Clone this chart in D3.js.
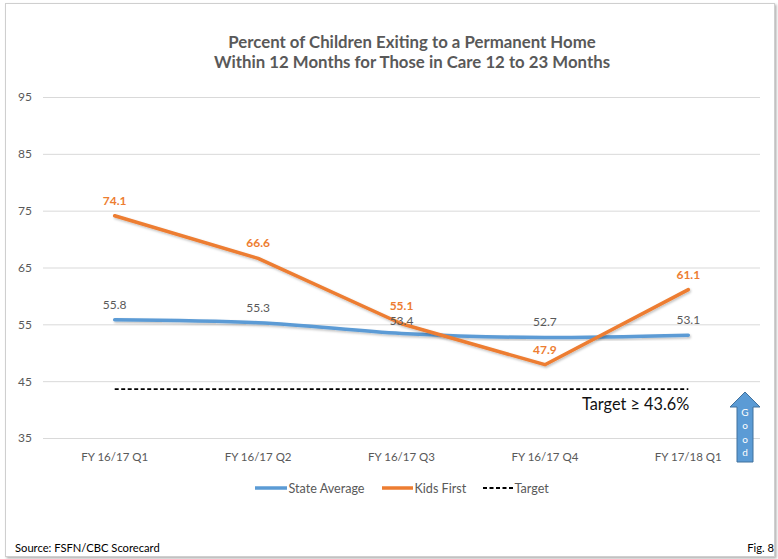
<!DOCTYPE html>
<html><head><meta charset="utf-8">
<script src="https://cdn.jsdelivr.net/npm/d3@7"></script>
<style>body{margin:0;background:#fff} svg{display:block}</style>
</head><body><svg id="c" width="778" height="559"></svg>
<script>
const categories = ["FY 16/17 Q1","FY 16/17 Q2","FY 16/17 Q3","FY 16/17 Q4","FY 17/18 Q1"];
const stateAverage = [55.8,55.3,53.4,52.7,53.1];
const kidsFirst = [74.1,66.6,55.1,47.9,61.1];
const target = [43.6,43.6,43.6,43.6,43.6];
const yTicks = [35,45,55,65,75,85,95];
const titleLines = ["Percent of Children Exiting to a Permanent Home","Within 12 Months for Those in Care 12 to 23 Months"];
const legendLabels = ["State Average","Kids First","Target"];
const targetText = "Target \u2265 43.6%";
const goodLetters = ["G","o","o","d"];

(function(){
const FONT = "Lato, 'Noto Sans', sans-serif";
const BLUE = "#5B9BD5", ORANGE = "#ED7D31", GRAY = "#595959";
const svg = d3.select("#c");

const defs = svg.append("defs");
const fs = defs.append("filter").attr("id","frameShadow").attr("x","-5%").attr("y","-5%").attr("width","110%").attr("height","110%");
fs.append("feDropShadow").attr("dx",1.5).attr("dy",1.5).attr("stdDeviation",1.2).attr("flood-color","#000").attr("flood-opacity",0.3);
const ls = defs.append("filter").attr("id","lineShadow").attr("x","-5%").attr("y","-20%").attr("width","110%").attr("height","140%");
ls.append("feDropShadow").attr("dx",1).attr("dy",1.5).attr("stdDeviation",1).attr("flood-color","#000").attr("flood-opacity",0.25);

// frame
svg.append("rect").attr("x",5.5).attr("y",3.5).attr("width",769).attr("height",553)
  .attr("fill","#fff").attr("stroke","#cfcfcf").attr("stroke-width",1).attr("filter","url(#frameShadow)");

const pL = 43, pR = 760, pT = 97, pB = 438;
const x = d3.scaleBand().domain(categories).range([pL,pR]);
const cx = c => x(c) + x.bandwidth()/2;
const y = d3.scaleLinear().domain([35,95]).range([pB,pT]);

// title
svg.append("g").selectAll("text").data(titleLines).join("text")
  .attr("x",412).attr("y",(d,i)=>48+i*20).attr("text-anchor","middle")
  .attr("font-family",FONT).attr("font-weight","bold").attr("font-size",16.8).attr("fill",GRAY).text(d=>d);

// y axis / gridlines
const ya = svg.append("g").attr("transform",`translate(${pL},0)`)
  .call(d3.axisLeft(y).tickValues(yTicks).tickSize(-(pR-pL)).tickPadding(11).tickFormat(d3.format("d")));
ya.select(".domain").remove();
ya.selectAll(".tick line").attr("stroke","#d9d9d9");
ya.selectAll(".tick text").attr("font-family",FONT).attr("font-size",12).attr("fill",GRAY);

// x axis
const xa = svg.append("g").attr("transform",`translate(0,${pB})`)
  .call(d3.axisBottom(x).tickSize(0).tickPadding(15));
xa.select(".domain").remove();
xa.selectAll(".tick text").attr("font-family",FONT).attr("font-size",11.5).attr("fill",GRAY);

const line = d3.line().x((d,i)=>cx(categories[i])).y(d=>y(d));

// target
svg.append("path").datum(target).attr("d",line).attr("fill","none")
  .attr("stroke","#000").attr("stroke-width",1.8).attr("stroke-dasharray","4,2.5");

// series
svg.append("path").datum(stateAverage).attr("d",line.curve(d3.curveMonotoneX)).attr("fill","none")
  .attr("stroke",BLUE).attr("stroke-width",3.5).attr("stroke-linecap","round").attr("filter","url(#lineShadow)");
line.curve(d3.curveLinear);
svg.append("path").datum(kidsFirst).attr("d",line).attr("fill","none")
  .attr("stroke",ORANGE).attr("stroke-width",3.5).attr("stroke-linecap","round").attr("stroke-linejoin","round").attr("filter","url(#lineShadow)");

// data labels (small nudge where the two labels collide at Q3)
svg.append("g").selectAll("text").data(stateAverage).join("text")
  .attr("x",(d,i)=>cx(categories[i])).attr("y",(d,i)=>y(d)-11+(i===2?2.5:0)).attr("text-anchor","middle")
  .attr("font-family",FONT).attr("font-size",12).attr("fill",GRAY).text(d=>d.toFixed(1));
svg.append("g").selectAll("text").data(kidsFirst).join("text")
  .attr("x",(d,i)=>cx(categories[i])).attr("y",(d,i)=>y(d)-11-(i===2?3:0)).attr("text-anchor","middle")
  .attr("font-family",FONT).attr("font-weight","bold").attr("font-size",12).attr("fill",ORANGE).text(d=>d.toFixed(1));

// target text
svg.append("text").attr("x",582).attr("y",410).attr("font-family",FONT).attr("font-size",16.3)
  .attr("fill","#111").text(targetText);

// good arrow
const ag = svg.append("g");
ag.append("path").attr("d","M745,392 L760,407 L753,407 L753,462 L737,462 L737,407 L730,407 Z")
  .attr("fill",BLUE).attr("stroke","#41719C").attr("stroke-width",1);
ag.selectAll("text").data(goodLetters).join("text")
  .attr("x",745).attr("y",(d,i)=>416+i*13.3).attr("text-anchor","middle")
  .attr("font-family",FONT).attr("font-size",10).attr("fill","#fff").text(d=>d);

// legend
const legendItems = [
  {label:legendLabels[0], color:BLUE, x1:255, x2:287, dash:null, w:3.5},
  {label:legendLabels[1], color:ORANGE, x1:382, x2:413, dash:null, w:3.5},
  {label:legendLabels[2], color:"#000", x1:483, x2:513, dash:"4,2.5", w:1.8}
];
const lg = svg.append("g").selectAll("g").data(legendItems).join("g");
lg.append("line").attr("x1",d=>d.x1).attr("x2",d=>d.x2).attr("y1",488).attr("y2",488)
  .attr("stroke",d=>d.color).attr("stroke-width",d=>d.w).attr("stroke-dasharray",d=>d.dash);
lg.append("text").attr("x",d=>d.x2+1.5).attr("y",492.5).attr("font-family",FONT).attr("font-size",12.6)
  .attr("fill",GRAY).text(d=>d.label);

// footer
svg.append("text").attr("x",15).attr("y",552).attr("font-family",FONT).attr("font-size",11.2).attr("fill","#000").text("Source: FSFN/CBC Scorecard");
svg.append("text").attr("x",774).attr("y",552).attr("text-anchor","end").attr("font-family",FONT).attr("font-size",11.2).attr("fill","#000").text("Fig. 8");
})();
</script></body></html>
